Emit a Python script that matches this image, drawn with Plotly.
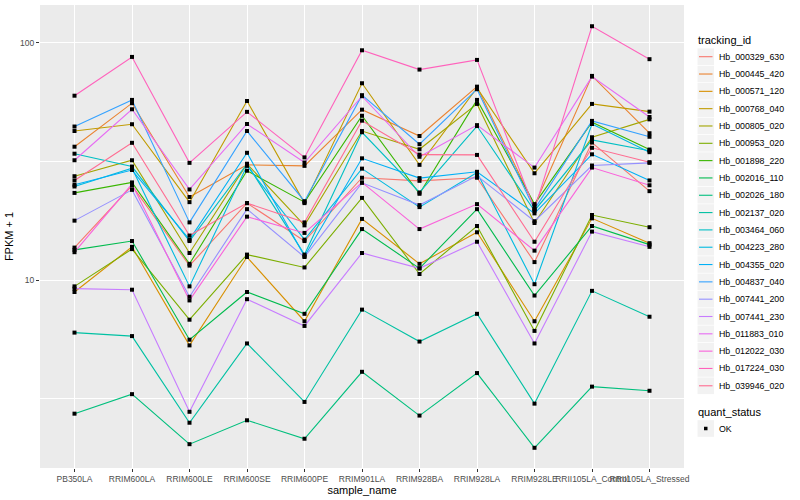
import plotly.graph_objects as go

samples = ["PB350LA", "RRIM600LA", "RRIM600LE", "RRIM600SE", "RRIM600PE", "RRIM901LA",
           "RRIM928BA", "RRIM928LA", "RRIM928LE", "RRII105LA_Control", "RRII105LA_Stressed"]

tracking_ids = ["Hb_000329_630", "Hb_000445_420", "Hb_000571_120", "Hb_000768_040", "Hb_000805_020",
                "Hb_000953_020", "Hb_001898_220", "Hb_002016_110", "Hb_002026_180", "Hb_002137_020",
                "Hb_003464_060", "Hb_004223_280", "Hb_004355_020", "Hb_004837_040", "Hb_007441_200",
                "Hb_007441_230", "Hb_011883_010", "Hb_012022_030", "Hb_017224_030", "Hb_039946_020"]

Hb_000329_630 = [13.7, 25.0, 11.5, 21.1, 14.6, 27.0, 26.2, 27.0, 11.9, 38.0, 23.7]
Hb_000445_420 = [36.5, 55.7, 22.4, 30.6, 30.3, 52.3, 40.5, 65.4, 20.6, 72.6, 41.6]
Hb_000571_120 = [8.9, 13.8, 5.3, 12.5, 6.7, 18.1, 11.7, 15.9, 6.7, 18.2, 14.3]
Hb_000768_040 = [42.5, 45.4, 21.3, 56.9, 21.1, 67.6, 30.6, 64.6, 28.2, 55.3, 51.3]
Hb_000805_020 = [27.4, 32.0, 13.0, 30.9, 17.0, 42.5, 35.6, 55.3, 17.4, 40.0, 47.6]
Hb_000953_020 = [9.4, 13.5, 6.8, 12.8, 11.3, 22.2, 10.6, 16.9, 6.1, 18.8, 16.7]
Hb_001898_220 = [23.3, 25.8, 11.7, 28.9, 21.3, 49.3, 23.1, 57.5, 20.9, 46.3, 35.5]
Hb_002016_110 = [13.4, 14.6, 5.6, 8.9, 7.2, 16.4, 11.2, 19.9, 8.6, 16.9, 14.1]
Hb_002026_180 = [2.73, 3.30, 2.03, 2.56, 2.14, 4.10, 2.68, 4.05, 1.96, 3.55, 3.41]
Hb_002137_020 = [6.0, 5.8, 2.50, 5.4, 3.06, 7.5, 5.5, 7.2, 3.01, 9.0, 7.0]
Hb_003464_060 = [34.1, 30.1, 14.6, 30.9, 12.8, 42.0, 23.4, 44.6, 19.6, 39.0, 35.1]
Hb_004223_280 = [24.8, 29.6, 9.4, 30.3, 14.8, 29.5, 20.3, 28.4, 9.6, 45.5, 34.6]
Hb_004355_020 = [25.2, 29.1, 14.8, 34.4, 12.6, 32.6, 26.9, 28.6, 19.1, 33.9, 26.3]
Hb_004837_040 = [44.4, 57.5, 17.5, 42.5, 21.5, 60.2, 37.4, 63.8, 19.9, 46.9, 40.2]
Hb_007441_200 = [17.8, 24.0, 8.5, 19.9, 12.5, 25.7, 20.7, 27.5, 17.7, 30.4, 31.2]
Hb_007441_230 = [9.2, 9.1, 2.78, 8.3, 6.4, 13.0, 11.2, 14.5, 5.4, 16.0, 13.8]
Hb_011883_010 = [32.0, 52.5, 24.1, 45.5, 31.3, 59.6, 33.1, 45.0, 29.8, 72.1, 48.7]
Hb_012022_030 = [13.1, 25.4, 8.2, 18.5, 15.8, 25.8, 16.4, 20.9, 13.3, 29.8, 25.1]
Hb_017224_030 = [59.9, 87.3, 31.2, 51.2, 32.9, 93.1, 77.2, 84.8, 19.9, 117.6, 85.4]
Hb_039946_020 = [26.3, 37.9, 15.4, 21.1, 17.5, 47.0, 33.8, 33.7, 14.5, 36.1, 31.4]

series = [Hb_000329_630, Hb_000445_420, Hb_000571_120, Hb_000768_040, Hb_000805_020,
          Hb_000953_020, Hb_001898_220, Hb_002016_110, Hb_002026_180, Hb_002137_020,
          Hb_003464_060, Hb_004223_280, Hb_004355_020, Hb_004837_040, Hb_007441_200,
          Hb_007441_230, Hb_011883_010, Hb_012022_030, Hb_017224_030, Hb_039946_020]

colors = ["#F8766D", "#EA8331", "#D89000", "#C09B00", "#A3A500", "#7CAE00", "#39B600",
          "#00BB4E", "#00BF7D", "#00C1A3", "#00BFC4", "#00BAE0", "#00B0F6", "#35A2FF",
          "#9590FF", "#C77CFF", "#E76BF3", "#FA62DB", "#FF62BC", "#FF6C91"]

quant_status = ["OK"]

FONT = "Liberation Sans"
W, H = 800, 500
L, R, T, B = 40, 116, 5, 32


def px2x(px):
    return (px - L) / (W - L - R)


def py2y(py):
    return (H - B - py) / (H - T - B)


fig = go.Figure()

for name, vals, col in zip(tracking_ids, series, colors):
    fig.add_trace(go.Scatter(x=samples, y=vals, mode="lines", name=name,
                             line=dict(color=col, width=1.1), showlegend=False))

all_x = [s for vals in series for s in samples]
all_y = [v for vals in series for v in vals]
fig.add_trace(go.Scatter(x=all_x, y=all_y, mode="markers", name=quant_status[0],
                         marker=dict(color="black", symbol="square", size=4),
                         showlegend=False))

# ggplot-style legends drawn in paper coordinates
shapes = []
annotations = []
key_x0, key_x1 = 697.5, 714.0
text_x = 716.5
first_y, step = 56.7, 17.32
annotations.append(dict(x=px2x(696), y=py2y(40.5), xref="paper", yref="paper",
                        text="tracking_id", showarrow=False, xanchor="left", yanchor="middle",
                        font=dict(size=11, color="black", family=FONT)))
for i, (name, col) in enumerate(zip(tracking_ids, colors)):
    cy = first_y + i * step
    shapes.append(dict(type="rect", xref="paper", yref="paper",
                       x0=px2x(key_x0), x1=px2x(key_x1),
                       y0=py2y(cy + 8.3), y1=py2y(cy - 8.3),
                       fillcolor="#F2F2F2", line=dict(width=0), layer="above"))
    shapes.append(dict(type="line", xref="paper", yref="paper",
                       x0=px2x(key_x0 + 1.5), x1=px2x(key_x1 - 1.5),
                       y0=py2y(cy), y1=py2y(cy),
                       line=dict(color=col, width=1.1), layer="above"))
    annotations.append(dict(x=px2x(text_x), y=py2y(cy), xref="paper", yref="paper",
                            text=name, showarrow=False, xanchor="left", yanchor="middle",
                            font=dict(size=8.8, color="black", family=FONT)))

annotations.append(dict(x=px2x(696), y=py2y(412.3), xref="paper", yref="paper",
                        text="quant_status", showarrow=False, xanchor="left", yanchor="middle",
                        font=dict(size=11, color="black", family=FONT)))
ok_y = 428.5
shapes.append(dict(type="rect", xref="paper", yref="paper",
                   x0=px2x(key_x0), x1=px2x(key_x1),
                   y0=py2y(ok_y + 8.3), y1=py2y(ok_y - 8.3),
                   fillcolor="#F2F2F2", line=dict(width=0), layer="above"))
shapes.append(dict(type="rect", xref="paper", yref="paper",
                   x0=px2x(704), x1=px2x(707.5),
                   y0=py2y(ok_y + 1.75), y1=py2y(ok_y - 1.75),
                   fillcolor="black", line=dict(width=0), layer="above"))
annotations.append(dict(x=px2x(text_x), y=py2y(ok_y), xref="paper", yref="paper",
                        text=quant_status[0], showarrow=False, xanchor="left", yanchor="middle",
                        font=dict(size=8.8, color="black", family=FONT)))

fig.update_layout(
    width=W, height=H,
    margin=dict(l=L, r=R, t=T, b=B, autoexpand=False),
    paper_bgcolor="white", plot_bgcolor="#EBEBEB",
    font=dict(family=FONT, size=9, color="#4D4D4D"),
    showlegend=False,
    shapes=shapes, annotations=annotations,
)

fig.update_xaxes(type="category", categoryorder="array", categoryarray=samples,
                 range=[-0.6, len(samples) - 0.4],
                 showgrid=True, gridcolor="white", gridwidth=1.1,
                 ticks="outside", ticklen=3, tickcolor="#333333", tickangle=0,
                 tickfont=dict(size=8.5, color="#4D4D4D"),
                 title=dict(text="sample_name", font=dict(size=11, color="black"), standoff=1),
                 zeroline=False, showline=False, automargin=False)

fig.update_yaxes(type="log", range=[0.207, 2.16],
                 tickvals=[10, 100], ticktext=["10", "100"],
                 showgrid=True, gridcolor="white", gridwidth=1.1,
                 minor=dict(tickvals=[3.1623, 31.623], showgrid=True, gridcolor="white",
                            gridwidth=0.5, ticks=""),
                 ticks="outside", ticklen=3, tickcolor="#333333",
                 tickfont=dict(size=8.5, color="#4D4D4D"),
                 title=dict(text="FPKM + 1", font=dict(size=11, color="black"), standoff=4),
                 zeroline=False, showline=False, automargin=False)

fig.write_html("out.html", config={"displayModeBar": False},
               post_script="document.body.style.margin='0px';document.body.style.overflow='hidden';")
